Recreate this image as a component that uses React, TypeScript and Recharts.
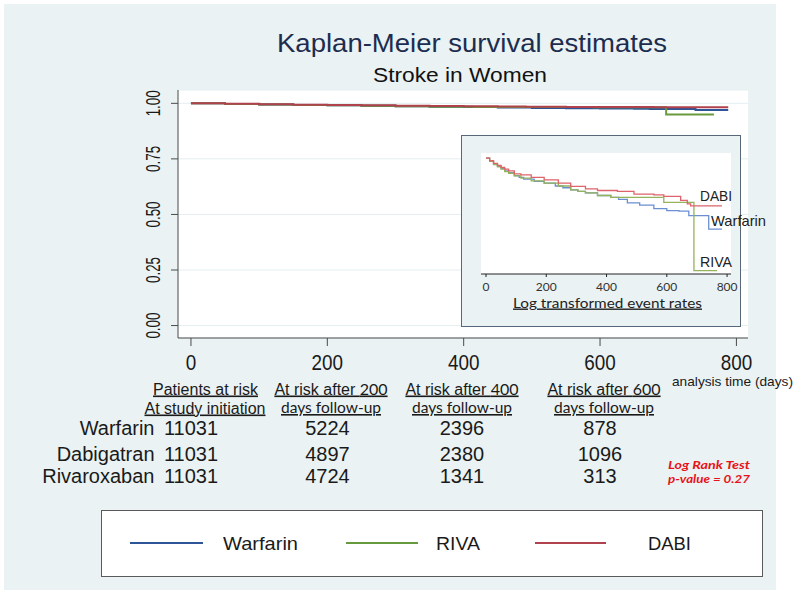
import React from 'react';
import { LineChart, Line, XAxis, YAxis, CartesianGrid, Legend } from 'recharts';

// ---------- data ----------
const seriesNames = ['Warfarin', 'RIVA', 'DABI'];
const seriesColors = ['#2e5597', '#669a3c', '#b0424d'];
const insetColors = ['#6b8fd0', '#94b35a', '#de636b'];

const mainTicksX = [0, 200, 400, 600, 800];
const mainTicksY = [0, 0.25, 0.5, 0.75, 1];
const insetTicksX = [0, 200, 400, 600, 800];

// Kaplan-Meier survival (time in days, survival)
const warfarinMain: [number, number][] = [
  [0, 1.0], [50, 0.997], [100, 0.995], [150, 0.993], [200, 0.991], [250, 0.989], [300, 0.987],
  [350, 0.985], [400, 0.983], [450, 0.981], [500, 0.979], [550, 0.978], [600, 0.977], [650, 0.976],
  [673, 0.974], [740, 0.97], [788, 0.97],
];
const rivaMain: [number, number][] = [
  [0, 1.0], [50, 0.997], [100, 0.995], [150, 0.993], [200, 0.991], [250, 0.989], [300, 0.987],
  [350, 0.985], [414, 0.984], [590, 0.982], [697, 0.95], [767, 0.95],
];
const dabiMain: [number, number][] = [
  [0, 1.0], [50, 0.998], [100, 0.996], [150, 0.994], [200, 0.992], [250, 0.991], [300, 0.989],
  [350, 0.988], [400, 0.987], [450, 0.986], [491, 0.985], [550, 0.984], [600, 0.984], [650, 0.983],
  [679, 0.982], [788, 0.982],
];

// Inset: log transformed event rates (relative units, 1 = start)
const warfarinInset: [number, number][] = [
  [0, 1.0], [12, 0.975], [25, 0.95], [38, 0.93], [50, 0.91], [62, 0.89], [75, 0.875], [94, 0.85],
  [110, 0.835], [125, 0.82], [160, 0.8], [193, 0.784], [230, 0.76], [255, 0.745], [281, 0.727],
  [305, 0.714], [330, 0.7], [370, 0.678], [414, 0.662], [440, 0.645], [469, 0.615], [510, 0.595],
  [557, 0.565], [600, 0.548], [640, 0.543], [673, 0.505], [739, 0.388], [783, 0.388],
];
const rivaInset: [number, number][] = [
  [0, 1.0], [12, 0.972], [25, 0.945], [38, 0.925], [50, 0.905], [62, 0.885], [75, 0.87], [94, 0.848],
  [116, 0.828], [150, 0.805], [193, 0.784], [240, 0.76], [281, 0.727], [305, 0.714], [330, 0.7],
  [370, 0.678], [414, 0.661], [590, 0.618], [690, 0.029], [767, 0.029],
];
const dabiInset: [number, number][] = [
  [0, 1.0], [12, 0.978], [25, 0.955], [38, 0.937], [50, 0.92], [62, 0.905], [75, 0.89], [94, 0.865],
  [116, 0.856], [150, 0.835], [193, 0.813], [240, 0.785], [281, 0.756], [330, 0.735], [370, 0.721],
  [436, 0.713], [491, 0.69], [557, 0.684], [590, 0.67], [646, 0.635], [668, 0.606], [679, 0.589],
  [783, 0.589],
];

// Numbers at risk
const riskTimes = [0, 200, 400, 600];
const riskGroups = ['Warfarin', 'Dabigatran', 'Rivaroxaban'];
const riskWarfarin = [11031, 5224, 2396, 878];
const riskDabigatran = [11031, 4897, 2380, 1096];
const riskRivaroxaban = [11031, 4724, 1341, 313];

const toPoints = (arr: [number, number][]) => arr.map(([t, s]) => ({ t, s }));

const mainSeries = [warfarinMain, rivaMain, dabiMain].map(toPoints);
const insetSeries = [warfarinInset, rivaInset, dabiInset].map(toPoints);
const riskRows = [riskWarfarin, riskDabigatran, riskRivaroxaban];

const SANS = '"Liberation Sans", Arial, sans-serif';
const HUMAN = 'Lato, "Open Sans", sans-serif';

// ---------- ticks ----------
const XTick = (props: any) => {
  const { x, y, payload } = props;
  const s = String(payload.value);
  return (
    <text x={x} y={y} dy="0.71em" textAnchor="middle" fontSize={22} fontFamily={SANS} fill="#1a1a1a"
      textLength={s.length * 10.5} lengthAdjust="spacingAndGlyphs">{s}</text>
  );
};

const YTick = (props: any) => {
  const { x, y, payload } = props;
  const s = Number(payload.value).toFixed(2);
  return (
    <text x={x} y={y} transform={`rotate(-90 ${x} ${y})`} textAnchor="middle" fontSize={20} fontFamily={SANS}
      fill="#1a1a1a" textLength={26} lengthAdjust="spacingAndGlyphs">{s}</text>
  );
};

const InsetXTick = (props: any) => {
  const { x, y, payload } = props;
  return (
    <text x={x} y={y} dy="0.71em" textAnchor="middle" fontSize={12} fontFamily={HUMAN} fill="#333">{payload.value}</text>
  );
};

// ---------- legend ----------
const legendSlots = [
  { l1: 29, l2: 102, tx: 122, tw: 75 },
  { l1: 245, l2: 317, tx: 335, tw: 44 },
  { l1: 434, l2: 505, tx: 547, tw: 43 },
];

const LegendBox = (props: any) => {
  const payload = props.payload || [];
  return (
    <svg width={662} height={67} style={{ display: 'block' }}>
      <rect x={0.5} y={0.5} width={661} height={66} fill="#ffffff" stroke="#5a5a5a" strokeWidth={1} />
      {seriesNames.map((name, i) => {
        const slot = legendSlots[i];
        const p = payload.find((e: any) => e.value === name);
        const color = p ? p.color : seriesColors[i];
        return (
          <g key={name}>
            <line x1={slot.l1} x2={slot.l2} y1={33} y2={33} stroke={color} strokeWidth={2} />
            <text x={slot.tx} y={40} fontSize={19} fontFamily={SANS} fill="#1a1a1a" textLength={slot.tw}
              lengthAdjust="spacingAndGlyphs">{name}</text>
          </g>
        );
      })}
    </svg>
  );
};

// ---------- app ----------
const colCenters = [191, 327.5, 462, 600];
const headerCenters = [331, 462, 604];

export default function App() {
  return (
    <div style={{ position: 'absolute', left: 0, top: 0, width: 800, height: 596, background: '#ffffff', overflow: 'hidden' }}>
      <div style={{ position: 'absolute', left: 4, top: 4, width: 772, height: 586, background: '#eaf2f3' }} />

      {/* main KM chart */}
      <div style={{ position: 'absolute', left: 0, top: 0 }}>
        <LineChart width={800} height={596} margin={{ top: 90, right: 52, bottom: 0, left: 0 }}>
          <CartesianGrid vertical={false} stroke="#e4eef1" fill="#ffffff" />
          <XAxis type="number" dataKey="t" domain={[-19, 817]} ticks={mainTicksX} interval={0} allowDataOverflow
            height={258} tickSize={8} tickMargin={8} stroke="#4a4a4a" tick={<XTick />} />
          <YAxis type="number" domain={[-0.056, 1.06]} ticks={mainTicksY} interval={0} allowDataOverflow
            width={178} tickSize={7} tickMargin={11} stroke="#4a4a4a" tick={<YTick />} />
          {mainSeries.map((d, i) => (
            <Line key={seriesNames[i]} data={d} dataKey="s" name={seriesNames[i]} type="stepAfter"
              stroke={seriesColors[i]} strokeWidth={2} dot={false} activeDot={false} isAnimationActive={false} />
          ))}
          <Legend layout="horizontal" verticalAlign="middle" align="center" width={662} height={67}
            wrapperStyle={{ left: 101, top: 510, width: 662, height: 67 }} content={<LegendBox />} />
        </LineChart>
      </div>

      {/* inset */}
      <div style={{ position: 'absolute', left: 461, top: 135, width: 280, height: 192, boxSizing: 'border-box',
        border: '1px solid #56687a', background: '#eaf2f3' }} />
      <div style={{ position: 'absolute', left: 461, top: 135 }}>
        <LineChart width={280} height={192} margin={{ top: 18, right: 10, bottom: 0, left: 0 }}>
          <CartesianGrid horizontal={false} vertical={false} fill="#ffffff" />
          <XAxis type="number" dataKey="t" domain={[-16.6, 813]} ticks={insetTicksX} interval={0} allowDataOverflow
            height={53} tickSize={3} tickMargin={5} stroke="#222" tick={<InsetXTick />} />
          <YAxis type="number" domain={[0, 1.045]} ticks={[1]} width={20} axisLine={false} tickSize={3}
            stroke="#222" tick={false} />
          {insetSeries.map((d, i) => (
            <Line key={seriesNames[i]} data={d} dataKey="s" name={seriesNames[i]} type="stepAfter"
              stroke={insetColors[i]} strokeWidth={1.3} dot={false} activeDot={false} isAnimationActive={false} />
          ))}
        </LineChart>
      </div>

      {/* texts */}
      <svg width={800} height={596} style={{ position: 'absolute', left: 0, top: 0, pointerEvents: 'none' }}>
        <text x={472} y={51.7} textAnchor="middle" fontSize={25} fontFamily={SANS} fill="#1d2d4f"
          textLength={390} lengthAdjust="spacingAndGlyphs">Kaplan-Meier survival estimates</text>
        <text x={460} y={81.5} textAnchor="middle" fontSize={21} fontFamily={SANS} fill="#111"
          textLength={174} lengthAdjust="spacingAndGlyphs">Stroke in Women</text>

        <text x={672} y={386} fontSize={13} fontFamily={SANS} fill="#1a1a1a" textLength={121}
          lengthAdjust="spacingAndGlyphs">analysis time (days)</text>

        {/* inset annotations */}
        <text x={700} y={200.5} fontSize={15} fontFamily={SANS} fill="#222" textLength={32} lengthAdjust="spacingAndGlyphs">DABI</text>
        <text x={711} y={226} fontSize={15} fontFamily={SANS} fill="#222" textLength={55} lengthAdjust="spacingAndGlyphs">Warfarin</text>
        <text x={700} y={267} fontSize={15} fontFamily={SANS} fill="#222" textLength={32} lengthAdjust="spacingAndGlyphs">RIVA</text>
        <text x={607.5} y={307.5} textAnchor="middle" fontSize={14} fontFamily={HUMAN} fill="#222" textLength={189}
          lengthAdjust="spacingAndGlyphs" style={{ textDecoration: 'underline' }}>Log transformed event rates</text>

        {/* risk table headers */}
        <text x={205.5} y={394.5} textAnchor="middle" fontSize={16} fontFamily={SANS} fill="#1a1a1a"
          style={{ textDecoration: 'underline' }}>Patients at risk</text>
        <text x={205} y={413.5} textAnchor="middle" fontSize={16} fontFamily={SANS} fill="#1a1a1a"
          style={{ textDecoration: 'underline' }}>At study initiation</text>
        {riskTimes.slice(1).map((t, i) => (
          <g key={t}>
            <text x={headerCenters[i]} y={394.5} textAnchor="middle" fontSize={16} fontFamily={SANS} fill="#1a1a1a"
              style={{ textDecoration: 'underline' }}>
              <tspan>At risk after </tspan>
              <tspan fontFamily={HUMAN}>{t}</tspan>
            </text>
            <text x={headerCenters[i]} y={413} textAnchor="middle" fontSize={16} fontFamily={HUMAN} fill="#1a1a1a"
              textLength={100} lengthAdjust="spacingAndGlyphs" style={{ textDecoration: 'underline' }}>days follow-up</text>
          </g>
        ))}

        {/* risk table rows */}
        {riskGroups.map((g, r) => {
          const yb = [435.3, 460.7, 483][r];
          return (
            <g key={g}>
              <text x={154.5} y={yb} textAnchor="end" fontSize={20} fontFamily={SANS} fill="#1a1a1a">{g}</text>
              {riskRows[r].map((v, c) => (
                <text key={c} x={colCenters[c]} y={yb} textAnchor="middle" fontSize={20} fontFamily={SANS} fill="#1a1a1a">{v}</text>
              ))}
            </g>
          );
        })}

        <text x={709} y={469} textAnchor="middle" fontSize={12} fontFamily={HUMAN} fontWeight="bold" fontStyle="italic"
          fill="#e8121a" textLength={82} lengthAdjust="spacingAndGlyphs">Log Rank Test</text>
        <text x={709} y={483} textAnchor="middle" fontSize={12} fontFamily={HUMAN} fontWeight="bold" fontStyle="italic"
          fill="#e8121a" textLength={82} lengthAdjust="spacingAndGlyphs">p-value = 0.27</text>
      </svg>
    </div>
  );
}
